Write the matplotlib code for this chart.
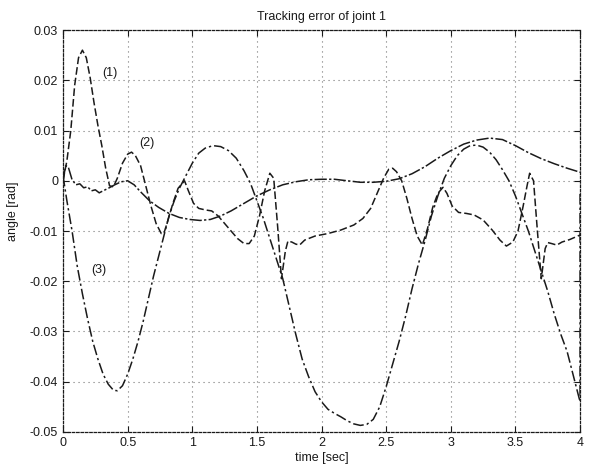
import matplotlib
matplotlib.use("Agg")
import matplotlib.pyplot as plt
import numpy as np
from matplotlib import rcParams

rcParams["font.family"] = ["Liberation Sans", "DejaVu Sans"]

# (1) joint error, controller 1
t1 = [0.00, 0.03, 0.06, 0.09, 0.12, 0.15, 0.18, 0.21, 0.24, 0.27, 0.30, 0.33,
      0.36, 0.39, 0.42, 0.46, 0.50, 0.53, 0.56, 0.60, 0.64, 0.68, 0.72, 0.76,
      0.78, 0.81, 0.85, 0.89, 0.94, 0.97, 1.01, 1.05, 1.10, 1.15, 1.20, 1.25,
      1.30, 1.35, 1.40, 1.44, 1.48, 1.52, 1.56, 1.60, 1.63, 1.66, 1.69, 1.72,
      1.74, 1.77, 1.80, 1.83, 1.87, 1.95, 2.05, 2.15, 2.25, 2.32, 2.38, 2.43,
      2.48, 2.52, 2.55, 2.58, 2.62, 2.66, 2.70, 2.74, 2.78, 2.82, 2.86, 2.90,
      2.94, 2.97, 3.01, 3.06, 3.12, 3.18, 3.25, 3.32, 3.38, 3.43, 3.48, 3.52,
      3.56, 3.59, 3.61, 3.64, 3.67, 3.70, 3.73, 3.75, 3.78, 3.82, 3.86, 3.92,
      4.00]
e1 = [0.0000, 0.0040, 0.0100, 0.0190, 0.0245, 0.0260, 0.0245, 0.0205, 0.0155,
      0.0110, 0.0070, 0.0025, -0.0010, -0.0012, 0.0005, 0.0035, 0.0053, 0.0057,
      0.0050, 0.0030, -0.0010, -0.0050, -0.0085, -0.0105, -0.0105, -0.0080,
      -0.0045, -0.0015, 0.0000, -0.0020, -0.0045, -0.0055, -0.0058, -0.0060,
      -0.0070, -0.0085, -0.0100, -0.0115, -0.0125, -0.0125, -0.0110, -0.0070,
      -0.0020, 0.0015, 0.0005, -0.0090, -0.0195, -0.0140, -0.0120, -0.0122,
      -0.0126, -0.0128, -0.0118, -0.0110, -0.0105, -0.0098, -0.0088, -0.0075,
      -0.0055, -0.0025, 0.0005, 0.0023, 0.0025, 0.0018, 0.0000, -0.0035,
      -0.0075, -0.0110, -0.0128, -0.0095, -0.0053, -0.0025, -0.0013, -0.0025,
      -0.0050, -0.0063, -0.0065, -0.0068, -0.0078, -0.0098, -0.0118, -0.0130,
      -0.0122, -0.0100, -0.0050, -0.0010, 0.0015, 0.0000, -0.0100, -0.0195,
      -0.0135, -0.0123, -0.0125, -0.0128, -0.0122, -0.0117, -0.0108]

# (2) joint error, controller 2
t2 = [0.00, 0.02, 0.04, 0.07, 0.10, 0.13, 0.16, 0.19, 0.22, 0.25, 0.28, 0.31,
      0.35, 0.40, 0.45, 0.50, 0.55, 0.60, 0.67, 0.74, 0.82, 0.90, 0.98, 1.06,
      1.14, 1.22, 1.30, 1.40, 1.50, 1.60, 1.70, 1.80, 1.90, 2.00, 2.10, 2.20,
      2.30, 2.40, 2.50, 2.60, 2.70, 2.80, 2.90, 3.00, 3.10, 3.20, 3.30, 3.40,
      3.50, 3.60, 3.70, 3.80, 3.90, 4.00]
e2 = [0.0000, 0.0030, 0.0028, 0.0002, -0.0008, -0.0006, -0.0014, -0.0012,
      -0.0020, -0.0018, -0.0024, -0.0020, -0.0015, -0.0008, -0.0002, 0.0000,
      -0.0008, -0.0022, -0.0040, -0.0053, -0.0065, -0.0073, -0.0077, -0.0079,
      -0.0077, -0.0070, -0.0060, -0.0045, -0.0030, -0.0018, -0.0008, -0.0002,
      0.0002, 0.0003, 0.0003, 0.0000, -0.0003, -0.0003, -0.0001, 0.0004,
      0.0014, 0.0028, 0.0045, 0.0060, 0.0073, 0.0081, 0.0085, 0.0082, 0.0070,
      0.0056, 0.0044, 0.0034, 0.0025, 0.0017]

# (3) joint error, controller 3
t3 = [0.00, 0.03, 0.07, 0.11, 0.15, 0.19, 0.23, 0.27, 0.31, 0.35, 0.39, 0.42,
      0.46, 0.50, 0.54, 0.58, 0.62, 0.66, 0.70, 0.74, 0.78, 0.82, 0.86, 0.90,
      0.95, 1.00, 1.05, 1.10, 1.16, 1.22, 1.28, 1.34, 1.40, 1.45, 1.50, 1.55,
      1.60, 1.65, 1.70, 1.75, 1.80, 1.85, 1.90, 1.95, 2.00, 2.05, 2.10, 2.15,
      2.20, 2.25, 2.30, 2.35, 2.40, 2.45, 2.50, 2.55, 2.60, 2.65, 2.70, 2.75,
      2.80, 2.85, 2.90, 2.95, 3.00, 3.05, 3.10, 3.15, 3.20, 3.25, 3.30, 3.35,
      3.40, 3.45, 3.50, 3.55, 3.60, 3.65, 3.70, 3.75, 3.80, 3.85, 3.90, 3.95,
      4.00, 4.00]
e3 = [0.0010, -0.0040, -0.0100, -0.0170, -0.0225, -0.0275, -0.0320, -0.0355,
      -0.0385, -0.0405, -0.0417, -0.0418, -0.0408, -0.0385, -0.0355, -0.0320,
      -0.0280, -0.0235, -0.0190, -0.0150, -0.0110, -0.0070, -0.0040, -0.0015,
      0.0010, 0.0035, 0.0055, 0.0065, 0.0070, 0.0068, 0.0060, 0.0045, 0.0020,
      -0.0005, -0.0040, -0.0075, -0.0115, -0.0155, -0.0195, -0.0250, -0.0305,
      -0.0355, -0.0390, -0.0420, -0.0440, -0.0455, -0.0463, -0.0470, -0.0478,
      -0.0484, -0.0487, -0.0485, -0.0475, -0.0450, -0.0410, -0.0365, -0.0320,
      -0.0270, -0.0215, -0.0165, -0.0120, -0.0070, -0.0030, 0.0005, 0.0030,
      0.0050, 0.0063, 0.0070, 0.0071, 0.0067, 0.0057, 0.0042, 0.0022, 0.0000,
      -0.0030, -0.0065, -0.0100, -0.0140, -0.0180, -0.0220, -0.0265, -0.0305,
      -0.0340, -0.0390, -0.0440, -0.0020]

curve_labels = ["(1)", "(2)", "(3)"]
label_t = [0.365, 0.65, 0.28]
label_e = [0.0214, 0.0075, -0.0178]

x_ticks = [0, 0.5, 1, 1.5, 2, 2.5, 3, 3.5, 4]
x_ticklabels = ["0", "0.5", "1", "1.5", "2", "2.5", "3", "3.5", "4"]
y_ticks = [0.03, 0.02, 0.01, 0, -0.01, -0.02, -0.03, -0.04, -0.05]
y_ticklabels = ["0.03", "0.02", "0.01", "0", "-0.01", "-0.02", "-0.03", "-0.04", "-0.05"]

INK = "#1a1a1a"

fig = plt.figure(figsize=(5.98, 4.70), dpi=100)
ax = fig.add_axes([0.1054, 0.081, 0.8646, 0.855])

ax.plot(t1, e1, color=INK, linewidth=1.1, linestyle=(0, (5, 2)))
ax.plot(t2, e2, color=INK, linewidth=1.1, linestyle=(0, (8, 1.5, 1.5, 1.5)))
ax.plot(t3, e3, color=INK, linewidth=1.1, linestyle=(0, (7, 2, 1.5, 2)))

for txt, xt, yt in zip(curve_labels, label_t, label_e):
    ax.text(xt, yt, txt, ha="center", va="center", fontsize=9, color=INK)

ax.set_xlim(0, 4)
ax.set_ylim(-0.05, 0.03)
ax.set_xticks(x_ticks)
ax.set_xticklabels(x_ticklabels)
ax.set_yticks(y_ticks)
ax.set_yticklabels(y_ticklabels)
ax.tick_params(direction="in", length=4, width=0.8, labelsize=9, colors=INK,
               top=True, right=True)

# sparse dotted grid, the box itself is drawn dotted too
ax.grid(True, linestyle=(0, (1, 3.5)), linewidth=0.8, color="#777777")
for sp in ax.spines.values():
    sp.set_linestyle((0, (2, 1.5)))
    sp.set_linewidth(0.9)
    sp.set_color(INK)

ax.set_title("Tracking error of joint 1", fontsize=9, color=INK, pad=7)
ax.set_xlabel("time [sec]", fontsize=9, color=INK, labelpad=2)
ax.set_ylabel("angle [rad]", fontsize=9, color=INK, labelpad=4)
ax.yaxis.set_label_coords(-0.085, 0.55)

fig.savefig("out.png", dpi=100)
